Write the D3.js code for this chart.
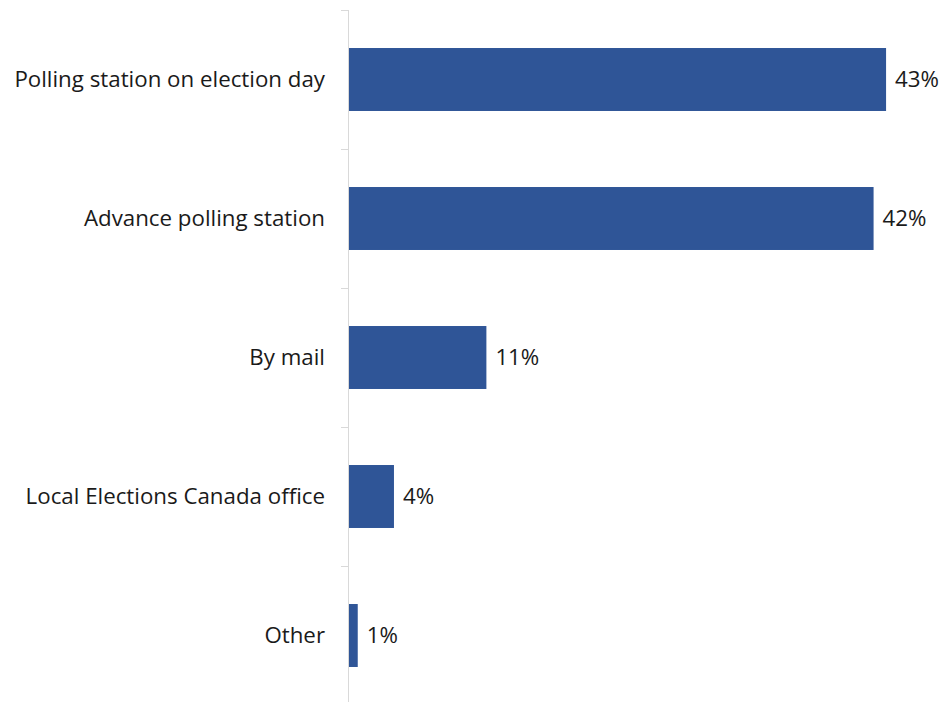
<!DOCTYPE html>
<html><head><meta charset="utf-8">
<script src="https://cdn.jsdelivr.net/npm/d3@7"></script>
<style>body{margin:0;background:#fff}svg{display:block}</style>
</head><body>
<script>
const categories = ["Polling station on election day","Advance polling station","By mail","Local Elections Canada office","Other"];
const values = [43, 42, 11, 3.6, 0.7];

const W = 945, H = 702;
const svg = d3.select("body").append("svg").attr("width", W).attr("height", H);

const x = d3.scaleLinear().domain([0, 45]).range([349, 349 + 45 * 12.49]);
const y = d3.scaleBand().domain(categories).range([10, 705]).paddingInner(0.547).paddingOuter(0.2735);

const font = "'Open Sans', 'Noto Sans', sans-serif";
const fmt = v => d3.format(".0f")(v) + "%";

// axis line and ticks
const step = y.step();
const axis = svg.append("g").attr("stroke", "#d9d9d9").attr("stroke-width", 1);
axis.append("line").attr("x1", x(0) - 0.5).attr("x2", x(0) - 0.5).attr("y1", y.range()[0]).attr("y2", y.range()[1]);
const bounds = d3.range(categories.length + 1).map(i => y.range()[0] + i * step);
axis.selectAll("line.t").data(bounds).join("line").attr("class","t")
  .attr("x1", x(0) - 8).attr("x2", x(0)).attr("y1", d => Math.round(d) + 0.5).attr("y2", d => Math.round(d) + 0.5);

// bars
svg.selectAll("rect.bar").data(categories).join("rect").attr("class","bar")
  .attr("x", x(0)).attr("y", d => y(d)).attr("height", y.bandwidth())
  .attr("width", (d, i) => x(values[i]) - x(0)).attr("fill", "#2F5597");

// category labels
svg.selectAll("text.cat").data(categories).join("text").attr("class","cat")
  .attr("x", 325).attr("y", d => y(d) + y.bandwidth() / 2).attr("dy", "0.35em")
  .attr("text-anchor", "end").attr("font-family", font).attr("font-size", 22.3).attr("fill", "#1a1a1a")
  .text(d => d);

// value labels
svg.selectAll("text.val").data(categories).join("text").attr("class","val")
  .attr("x", (d, i) => x(values[i]) + 9).attr("y", d => y(d) + y.bandwidth() / 2).attr("dy", "0.35em")
  .attr("font-family", font).attr("font-size", 22.3).attr("fill", "#1a1a1a")
  .text((d, i) => fmt(values[i]));
</script>
</body></html>
